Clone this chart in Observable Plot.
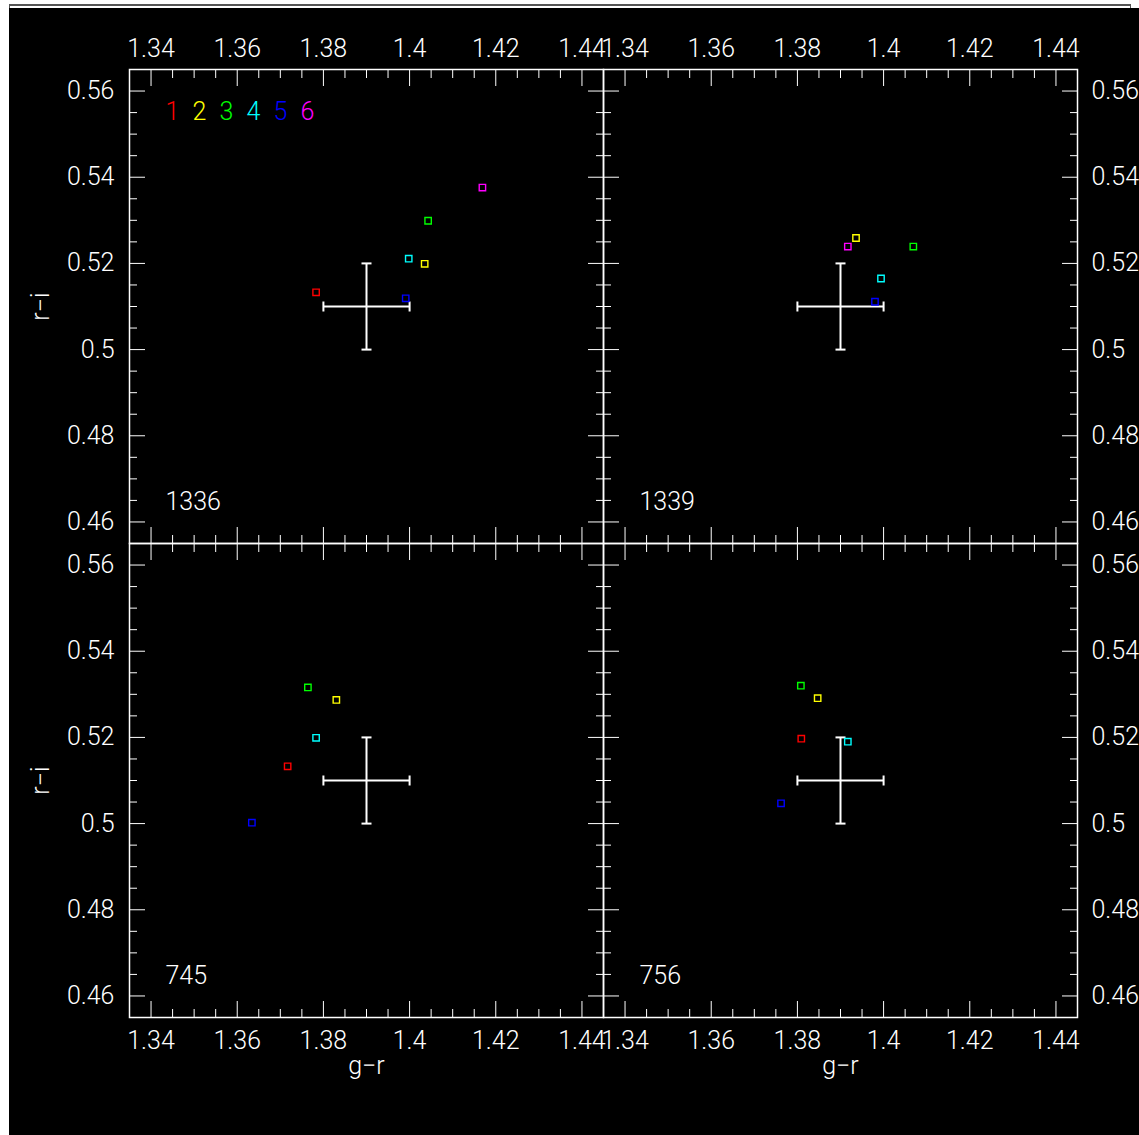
<!DOCTYPE html>
<html>
<head>
<meta charset="utf-8">
<script src="https://cdn.jsdelivr.net/npm/d3@7"></script>
<script src="https://cdn.jsdelivr.net/npm/@observablehq/plot@0.6"></script>
<style>
  html, body { margin: 0; padding: 0; background: #fff; }
  #outline { position: absolute; left: 9px; top: 4px; width: 1120px; height: 20px; border-top: 2px solid #555; border-left: 1px solid #555; border-right: 1px solid #555; }
  #chart { position: absolute; left: 9px; top: 8px; width: 1130px; height: 1127px; background: #000; overflow: hidden; }
  #chart svg { display: block; }
</style>
</head>
<body>
<div id="outline"></div>
<div id="chart"></div>
<script>
// ---- data ----
const panels = ["1336", "1339", "745", "756"];
const panelCol = [0, 1, 0, 1];
const panelRow = [0, 0, 1, 1];
const series = ["1", "2", "3", "4", "5", "6"];
const seriesColors = ["#ff0000", "#ffff00", "#00ff00", "#00ffff", "#0000ff", "#ff00ff"];
const xLabel = "g−r";
const yLabel = "r−i";

// g-r and r-i for series 1..6 in each panel (null = not plotted)
const gr1336 = [1.3783, 1.4035, 1.4043, 1.3998, 1.3991, 1.4169];
const ri1336 = [0.5133, 0.5199, 0.5299, 0.5211, 0.5119, 0.5376];
const gr1339 = [null, 1.3936, 1.4069, 1.3994, 1.3980, 1.3917];
const ri1339 = [null, 0.5259, 0.5239, 0.5165, 0.5111, 0.5239];
const gr745  = [1.3717, 1.3830, 1.3764, 1.3783, 1.3634, null];
const ri745  = [0.5133, 0.5287, 0.5316, 0.5199, 0.5002, null];
const gr756  = [1.3809, 1.3847, 1.3808, 1.3917, 1.3762, null];
const ri756  = [0.5197, 0.5291, 0.5320, 0.5190, 0.5047, null];

// typical error bar (same in each panel)
const errX = [1.39], errY = [0.51], errDX = [0.01], errDY = [0.01];

// axes
const xDomain = [1.335, 1.445];
const yDomain = [0.455, 0.565];
const xMajor = [1.34, 1.36, 1.38, 1.40, 1.42, 1.44];
const xMinor = [1.335, 1.345, 1.35, 1.355, 1.365, 1.37, 1.375, 1.385, 1.39, 1.395, 1.405, 1.41, 1.415, 1.425, 1.43, 1.435, 1.445];
const yMajor = [0.46, 0.48, 0.50, 0.52, 0.54, 0.56];
const yMinor = [0.455, 0.465, 0.47, 0.475, 0.485, 0.49, 0.495, 0.505, 0.51, 0.515, 0.525, 0.53, 0.535, 0.545, 0.55, 0.555, 0.565];

// ---- build tables ----
const grAll = [gr1336, gr1339, gr745, gr756];
const riAll = [ri1336, ri1339, ri745, ri756];
const points = [];
panels.forEach((p, pi) => {
  series.forEach((s, si) => {
    if (grAll[pi][si] != null) {
      points.push({panel: p, col: panelCol[pi], row: panelRow[pi], series: s, gr: grAll[pi][si], ri: riAll[pi][si]});
    }
  });
});
const errTable = errX.map((x, i) => ({x, y: errY[i], dx: errDX[i], dy: errDY[i]}));
const panelTable = panels.map((p, i) => ({panel: p, col: panelCol[i], row: panelRow[i]}));

const fmt = d => String(+d.toFixed(3));
const capV = {draw(ctx, size) { const h = Math.sqrt(size / Math.PI); ctx.moveTo(0, -h); ctx.lineTo(0, h); }};
const capH = {draw(ctx, size) { const h = Math.sqrt(size / Math.PI); ctx.moveTo(-h, 0); ctx.lineTo(h, 0); }};

const tickStyle = {stroke: "white", strokeWidth: 1, text: null, label: null};
const labelStyle = {tickSize: 0, tickFormat: fmt, fill: "white", fontWeight: 300, label: null};

const legendMarks = series.map((s, i) => Plot.text([s], {
  fx: () => 0, fy: () => 0, text: d => d, fill: seriesColors[i],
  frameAnchor: "top-left", textAnchor: "start", lineAnchor: "top",
  dx: 36 + i * 27, dy: 33, fontWeight: 300
}));

const chart = Plot.plot({
  width: 1130,
  height: 1127,
  marginLeft: 120,
  marginTop: 61,
  marginRight: 62,
  marginBottom: 118,
  style: {background: "black", color: "white", fontFamily: "Roboto, 'DejaVu Sans', sans-serif", fontSize: "25px"},
  x: {domain: xDomain},
  y: {domain: yDomain},
  fx: {domain: [0, 1], padding: 0, axis: null},
  fy: {domain: [0, 1], padding: 0, axis: null},
  color: {domain: series, range: seriesColors},
  marks: [
    // minor ticks on all sides
    Plot.axisX(xMinor, {anchor: "top", facetAnchor: null, tickSize: -8, ...tickStyle}),
    Plot.axisX(xMinor, {anchor: "bottom", facetAnchor: null, tickSize: -8, ...tickStyle}),
    Plot.axisY(yMinor, {anchor: "left", facetAnchor: null, tickSize: -8, ...tickStyle}),
    Plot.axisY(yMinor, {anchor: "right", facetAnchor: null, tickSize: -8, ...tickStyle}),
    // major ticks on all sides
    Plot.axisX(xMajor, {anchor: "top", facetAnchor: null, tickSize: -16, ...tickStyle}),
    Plot.axisX(xMajor, {anchor: "bottom", facetAnchor: null, tickSize: -16, ...tickStyle}),
    Plot.axisY(yMajor, {anchor: "left", facetAnchor: null, tickSize: -16, ...tickStyle}),
    Plot.axisY(yMajor, {anchor: "right", facetAnchor: null, tickSize: -16, ...tickStyle}),
    // tick labels on the outer edges
    Plot.axisX(xMajor, {anchor: "top", facetAnchor: "top", tickPadding: 13, ...labelStyle}),
    Plot.axisX(xMajor, {anchor: "bottom", facetAnchor: "bottom", tickPadding: 14, ...labelStyle}),
    Plot.axisY(yMajor, {anchor: "left", facetAnchor: "left", tickPadding: 15, ...labelStyle}),
    Plot.axisY(yMajor, {anchor: "right", facetAnchor: "right", tickPadding: 14, ...labelStyle}),
    // axis titles, one per outer panel
    Plot.text(panelTable.filter(d => d.col === 0), {fx: "col", fy: "row", text: () => yLabel, frameAnchor: "left", rotate: -90, dx: -89, textAnchor: "middle", lineAnchor: "middle", fill: "white", fontWeight: 300}),
    Plot.text(panelTable.filter(d => d.row === 1), {fx: "col", fy: "row", text: () => xLabel, frameAnchor: "bottom", dy: 48, textAnchor: "middle", lineAnchor: "middle", fill: "white", fontWeight: 300}),
    Plot.frame({stroke: "white", strokeWidth: 1.5}),
    // error cross
    Plot.link(errTable, {x1: d => d.x - d.dx, x2: d => d.x + d.dx, y1: "y", y2: "y", stroke: "white", strokeWidth: 2}),
    Plot.link(errTable, {x1: "x", x2: "x", y1: d => d.y - d.dy, y2: d => d.y + d.dy, stroke: "white", strokeWidth: 2}),
    Plot.dot(errTable, {x: d => d.x - d.dx, y: "y", symbol: capV, r: 5, stroke: "white", strokeWidth: 2, fill: "none"}),
    Plot.dot(errTable, {x: d => d.x + d.dx, y: "y", symbol: capV, r: 5, stroke: "white", strokeWidth: 2, fill: "none"}),
    Plot.dot(errTable, {x: "x", y: d => d.y - d.dy, symbol: capH, r: 5, stroke: "white", strokeWidth: 2, fill: "none"}),
    Plot.dot(errTable, {x: "x", y: d => d.y + d.dy, symbol: capH, r: 5, stroke: "white", strokeWidth: 2, fill: "none"}),
    // data points
    Plot.dot(points, {x: "gr", y: "ri", fx: "col", fy: "row", stroke: "series", symbol: "square", r: 3.6, strokeWidth: 1.4, fill: "none"}),
    // panel labels
    Plot.text(panelTable, {fx: "col", fy: "row", text: "panel", frameAnchor: "bottom-left", textAnchor: "start", lineAnchor: "bottom", dx: 36, dy: -34, fill: "white", fontWeight: 300}),
    ...legendMarks
  ]
});
document.getElementById("chart").appendChild(chart);
</script>
</body>
</html>
